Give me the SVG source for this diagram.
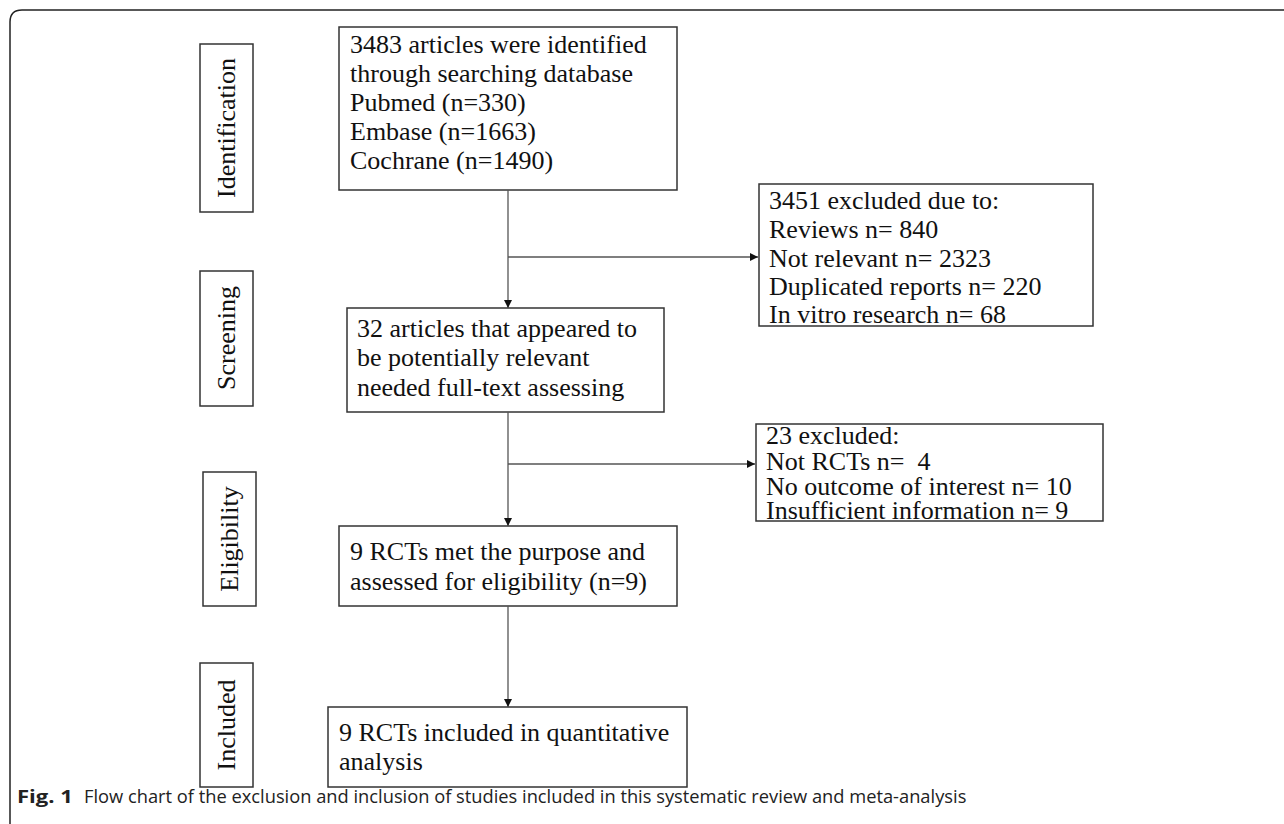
<svg xmlns="http://www.w3.org/2000/svg" width="1284" height="824" viewBox="0 0 1284 824">
<defs>
<style>
.box{fill:#fff;stroke:#333;stroke-width:1.5}
.t{font-family:"Liberation Serif","Times New Roman",serif;font-size:26px;fill:#111}
.lab{font-family:"Liberation Serif","Times New Roman",serif;font-size:26px;fill:#111;text-anchor:middle}
.con{fill:none;stroke:#555;stroke-width:1.3}
.cap{font-family:"Open Sans","Noto Sans","Liberation Sans",sans-serif;font-size:18.3px;fill:#222}
</style>
<marker id="ah" viewBox="0 0 10 10" refX="10" refY="5" markerWidth="8" markerHeight="8" markerUnits="userSpaceOnUse" orient="auto">
<path d="M0,0 L10,5 L0,10 z" fill="#111"/>
</marker>
</defs>
<rect width="1284" height="824" fill="#fff"/>
<path d="M10,824 V22 Q10,10 22,10 H1284" fill="none" stroke="#222" stroke-width="1.5"/>

<g id="stage-identification">
<rect class="box" x="200" y="44" width="53" height="168"/>
<text class="lab" transform="translate(235,128) rotate(-90)">Identification</text>
</g>
<g id="stage-screening">
<rect class="box" x="200" y="271" width="53" height="135"/>
<text class="lab" transform="translate(235,338) rotate(-90)">Screening</text>
</g>
<g id="stage-eligibility">
<rect class="box" x="203" y="472" width="53" height="134"/>
<text class="lab" transform="translate(238,539) rotate(-90)">Eligibility</text>
</g>
<g id="stage-included">
<rect class="box" x="200" y="663" width="53" height="124"/>
<text class="lab" transform="translate(235,725) rotate(-90)">Included</text>
</g>

<g id="node-identified">
<rect class="box" x="339" y="27" width="338" height="163"/>
<text class="t" x="350" y="53">3483 articles were identified</text>
<text class="t" x="350" y="82">through searching database</text>
<text class="t" x="350" y="111">Pubmed (n=330)</text>
<text class="t" x="350" y="140">Embase (n=1663)</text>
<text class="t" x="350" y="169">Cochrane (n=1490)</text>
</g>
<g id="node-excluded1">
<rect class="box" x="759" y="184" width="334" height="142"/>
<text class="t" x="769" y="209">3451 excluded due to:</text>
<text class="t" x="769" y="238">Reviews n= 840</text>
<text class="t" x="769" y="267">Not relevant n= 2323</text>
<text class="t" x="769" y="295">Duplicated reports n= 220</text>
<text class="t" x="769" y="323">In vitro research n= 68</text>
</g>
<g id="node-screened">
<rect class="box" x="347" y="308" width="317" height="104"/>
<text class="t" x="357" y="337">32 articles that appeared to</text>
<text class="t" x="357" y="366">be potentially relevant</text>
<text class="t" x="357" y="396">needed full-text assessing</text>
</g>
<g id="node-excluded2">
<rect class="box" x="756" y="424" width="347" height="97"/>
<text class="t" x="766" y="444">23 excluded:</text>
<text class="t" x="766" y="469.5">Not RCTs n=&#160; 4</text>
<text class="t" x="766" y="495">No outcome of interest n= 10</text>
<text class="t" x="766" y="518.5">Insufficient information n= 9</text>
</g>
<g id="node-eligible">
<rect class="box" x="339" y="526" width="338" height="80"/>
<text class="t" x="350" y="560">9 RCTs met the purpose and</text>
<text class="t" x="350" y="590">assessed for eligibility (n=9)</text>
</g>
<g id="node-included">
<rect class="box" x="328" y="707" width="359" height="80"/>
<text class="t" x="339" y="741">9 RCTs included in quantitative</text>
<text class="t" x="339" y="770">analysis</text>
</g>

<g id="connectors">
<line class="con" x1="508" y1="190" x2="508" y2="308" marker-end="url(#ah)"/>
<line class="con" x1="508" y1="257" x2="758" y2="257" marker-end="url(#ah)"/>
<line class="con" x1="508" y1="412" x2="508" y2="526" marker-end="url(#ah)"/>
<line class="con" x1="508" y1="464" x2="755" y2="464" marker-end="url(#ah)"/>
<line class="con" x1="508" y1="606" x2="508" y2="707" marker-end="url(#ah)"/>
</g>

<g id="caption">
<text class="cap" x="17" y="803"><tspan font-weight="bold" textLength="56" lengthAdjust="spacingAndGlyphs">Fig. 1</tspan><tspan x="84">Flow chart of the exclusion and inclusion of studies included in this systematic review and meta-analysis</tspan></text>
</g>
</svg>
